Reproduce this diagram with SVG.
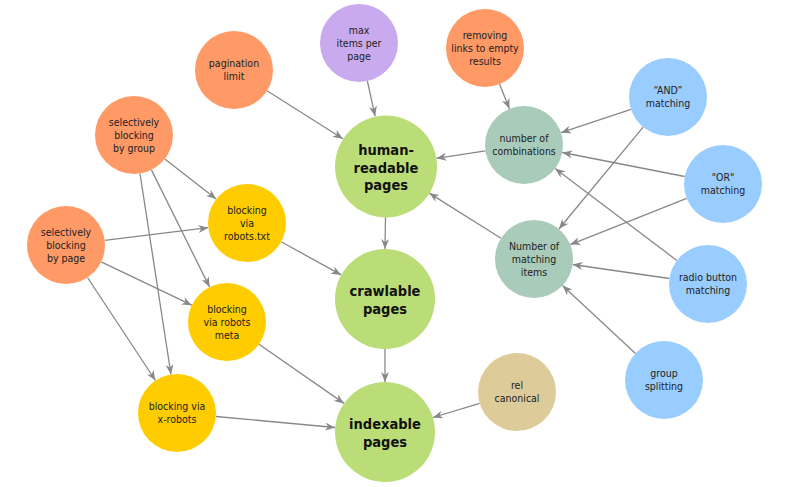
<svg xmlns="http://www.w3.org/2000/svg" width="789" height="487" viewBox="0 0 789 487">
<style>
.n text{font-family:"DejaVu Sans Condensed","DejaVu Sans",sans-serif;font-stretch:condensed;font-size:10.5px;fill:#222;text-anchor:middle}
.n text.b{font-weight:bold;font-size:14.5px;fill:#111}
.or{fill:#FF9966}.pu{fill:#C9AAEE}.gr{fill:#BBDD77}.ye{fill:#FFCC00}.te{fill:#A9CBBA}.bl{fill:#99CCFF}.ta{fill:#DDCC99}
#edges line{stroke:#888;stroke-width:1.3;marker-end:url(#arr)}
</style>
<defs>
<marker id="arr" markerUnits="userSpaceOnUse" markerWidth="10" markerHeight="8" refX="10" refY="4" orient="auto">
<path d="M0,0 L10,4 L0,8 L3,4 z" fill="#888"/>
</marker>
</defs>
<rect width="789" height="487" fill="#fff"/>
<g id="edges">
<line x1="267" y1="90.8" x2="342.9" y2="138.8"/>
<line x1="367.4" y1="81.1" x2="375.1" y2="116.2"/>
<line x1="385.5" y1="217" x2="385" y2="249"/>
<line x1="385" y1="349" x2="385" y2="382"/>
<line x1="164.8" y1="159" x2="216.2" y2="199"/>
<line x1="151.4" y1="169.9" x2="209.6" y2="287.1"/>
<line x1="140" y1="173.5" x2="171" y2="374.5"/>
<line x1="104.7" y1="240.3" x2="208.3" y2="227.7"/>
<line x1="101.2" y1="261.8" x2="191.8" y2="305.2"/>
<line x1="87.5" y1="277.5" x2="155.5" y2="380.5"/>
<line x1="281.2" y1="241.8" x2="341.2" y2="274.9"/>
<line x1="259" y1="344.3" x2="344" y2="403.4"/>
<line x1="215.8" y1="416.5" x2="335.2" y2="427.5"/>
<line x1="479.7" y1="403.3" x2="432.9" y2="417.5"/>
<line x1="499.6" y1="84.2" x2="509.4" y2="108.8"/>
<line x1="485.4" y1="150.9" x2="436.4" y2="158.3"/>
<line x1="631" y1="109.3" x2="561" y2="132.7"/>
<line x1="643.1" y1="127.1" x2="558.9" y2="229"/>
<line x1="684.7" y1="176.5" x2="562.3" y2="152.5"/>
<line x1="686.7" y1="198.4" x2="570.3" y2="244.6"/>
<line x1="676.9" y1="260.5" x2="555.1" y2="168.5"/>
<line x1="669.4" y1="278.5" x2="572.6" y2="264.5"/>
<line x1="635.5" y1="353.4" x2="562.5" y2="285.6"/>
<line x1="501" y1="238.3" x2="429.2" y2="193.1"/>
</g>
<g id="pagination" class="n"><circle class="or" cx="234" cy="70" r="39"/><text x="234" y="67">pagination</text><text x="234" y="80">limit</text></g>
<g id="maxitems" class="n"><circle class="pu" cx="359" cy="43" r="39"/><text x="359" y="34">max</text><text x="359" y="47">items per</text><text x="359" y="60">page</text></g>
<g id="selgroup" class="n"><circle class="or" cx="134" cy="135" r="39"/><text x="134" y="126">selectively</text><text x="134" y="139">blocking</text><text x="134" y="152">by group</text></g>
<g id="robotstxt" class="n"><circle class="ye" cx="247" cy="223" r="39"/><text x="247" y="214">blocking</text><text x="247" y="227">via</text><text x="247" y="240">robots.txt</text></g>
<g id="selpage" class="n"><circle class="or" cx="66" cy="245" r="39"/><text x="66" y="236">selectively</text><text x="66" y="249">blocking</text><text x="66" y="262">by page</text></g>
<g id="robotsmeta" class="n"><circle class="ye" cx="227" cy="322" r="39"/><text x="227" y="313">blocking</text><text x="227" y="326">via robots</text><text x="227" y="339">meta</text></g>
<g id="xrobots" class="n"><circle class="ye" cx="177" cy="413" r="39"/><text x="177" y="410">blocking via</text><text x="177" y="423">x-robots</text></g>
<g id="human" class="n"><circle class="gr" cx="386" cy="166.5" r="51"/><text class="b" x="386" y="155">human-</text><text class="b" x="386" y="172.5">readable</text><text class="b" x="386" y="190">pages</text></g>
<g id="crawlable" class="n"><circle class="gr" cx="385" cy="299" r="50"/><text class="b" x="385" y="295.5">crawlable</text><text class="b" x="385" y="313.5">pages</text></g>
<g id="indexable" class="n"><circle class="gr" cx="385" cy="432" r="50"/><text class="b" x="385" y="428.5">indexable</text><text class="b" x="385" y="446.5">pages</text></g>
<g id="removing" class="n"><circle class="or" cx="485" cy="48" r="39"/><text x="485" y="39">removing</text><text x="485" y="52">links to empty</text><text x="485" y="65">results</text></g>
<g id="numcomb" class="n"><circle class="te" cx="524" cy="145" r="39"/><text x="524" y="142">number of</text><text x="524" y="155">combinations</text></g>
<g id="andmatch" class="n"><circle class="bl" cx="668" cy="97" r="39"/><text x="668" y="94">“AND”</text><text x="668" y="107">matching</text></g>
<g id="ormatch" class="n"><circle class="bl" cx="723" cy="184" r="39"/><text x="723" y="181">"OR"</text><text x="723" y="194">matching</text></g>
<g id="nummatch" class="n"><circle class="te" cx="534" cy="259" r="39"/><text x="534" y="250">Number of</text><text x="534" y="263">matching</text><text x="534" y="276">items</text></g>
<g id="radio" class="n"><circle class="bl" cx="708" cy="284" r="39"/><text x="708" y="281">radio button</text><text x="708" y="294">matching</text></g>
<g id="groupsplit" class="n"><circle class="bl" cx="664" cy="380" r="39"/><text x="664" y="377">group</text><text x="664" y="390">splitting</text></g>
<g id="relcanonical" class="n"><circle class="ta" cx="517" cy="392" r="39"/><text x="517" y="389">rel</text><text x="517" y="402">canonical</text></g>
</svg>
